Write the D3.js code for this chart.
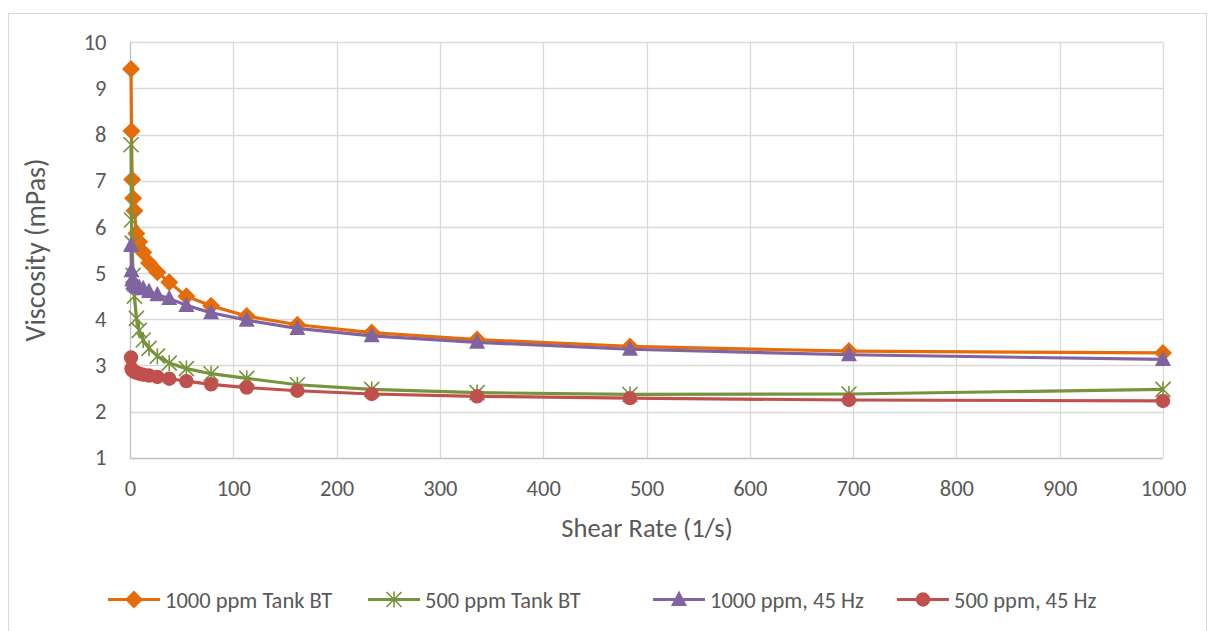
<!DOCTYPE html>
<html><head><meta charset="utf-8">
<script src="https://cdnjs.cloudflare.com/ajax/libs/d3/7.8.5/d3.min.js"></script>
<style>body{margin:0;background:#fff}svg{display:block}text{font-family:Carlito,"Liberation Sans","Open Sans",sans-serif;fill:#595959}</style>
</head><body><svg id="c" width="1214" height="631"></svg>
<script>
const shearRate = [1.0, 1.45, 2.1, 3.0, 4.3, 6.2, 8.9, 12.8, 18.4, 26.5, 38, 54.6, 78.5, 113, 162, 234, 336, 484, 696, 1000];
const tank1000 = [9.42, 8.08, 7.03, 6.62, 6.35, 5.86, 5.68, 5.45, 5.22, 5.02, 4.8, 4.5, 4.29, 4.07, 3.88, 3.71, 3.56, 3.41, 3.31, 3.27];
const tank500 = [7.78, 6.15, 5.65, 4.95, 4.5, 4.02, 3.76, 3.55, 3.37, 3.2, 3.05, 2.93, 2.82, 2.72, 2.58, 2.48, 2.41, 2.37, 2.38, 2.48];
const hz1000 = [5.6, 5.05, 4.85, 4.78, 4.74, 4.71, 4.69, 4.66, 4.6, 4.53, 4.45, 4.3, 4.14, 3.98, 3.8, 3.64, 3.5, 3.35, 3.23, 3.13];
const hz500 = [3.17, 2.93, 2.9, 2.88, 2.86, 2.84, 2.82, 2.8, 2.78, 2.75, 2.71, 2.66, 2.59, 2.52, 2.45, 2.38, 2.33, 2.29, 2.25, 2.23];
const seriesNames = ["1000 ppm Tank BT", "500 ppm Tank BT", "1000 ppm, 45 Hz", "500 ppm, 45 Hz"];
const xTicks = [0,100,200,300,400,500,600,700,800,900,1000];
const yTicks = [1,2,3,4,5,6,7,8,9,10];
const xTitle = "Shear Rate (1/s)";
const yTitle = "Viscosity (mPas)";

const series = [
  {name: seriesNames[0], values: tank1000, color: "#E46C0A", marker: "diamond"},
  {name: seriesNames[1], values: tank500, color: "#77933C", marker: "star"},
  {name: seriesNames[2], values: hz1000, color: "#8064A2", marker: "triangle"},
  {name: seriesNames[3], values: hz500, color: "#C0504D", marker: "circle"}
];

const FONT = 'Carlito,"Liberation Sans",sans-serif';
const svg = d3.select("#c");
svg.append("rect").attr("x",8.5).attr("y",13.5).attr("width",1198).attr("height",640)
  .attr("fill","#fff").attr("stroke","#d9d9d9");

const L=130, R=1163, T=42.3, B=457.7;
const x = d3.scaleLinear().domain([0,1000]).range([L,R]);
const y = d3.scaleLinear().domain([1,10]).range([B,T]);

const g = svg.append("g");
g.selectAll(".vg").data(xTicks.slice(1)).enter().append("line")
  .attr("x1",d=>Math.round(x(d))+0.5).attr("x2",d=>Math.round(x(d))+0.5)
  .attr("y1",T).attr("y2",B).attr("stroke","#d9d9d9").attr("stroke-width",1.3);
g.selectAll(".hg").data(yTicks.slice(1)).enter().append("line")
  .attr("y1",d=>Math.round(y(d))+0.5).attr("y2",d=>Math.round(y(d))+0.5)
  .attr("x1",L).attr("x2",R).attr("stroke","#d9d9d9").attr("stroke-width",1.3);
g.append("line").attr("x1",L+0.5).attr("x2",L+0.5).attr("y1",T).attr("y2",B).attr("stroke","#bfbfbf").attr("stroke-width",1.3);
g.append("line").attr("x1",L).attr("x2",R).attr("y1",Math.round(B)+0.5).attr("y2",Math.round(B)+0.5).attr("stroke","#bfbfbf").attr("stroke-width",1.3);

const xa = svg.append("g").attr("transform",`translate(0,${B})`)
  .call(d3.axisBottom(x).tickValues(xTicks).tickSize(0).tickPadding(22).tickFormat(d3.format("d")));
xa.select(".domain").remove();
xa.selectAll("text").attr("font-size",22.5).attr("fill","#595959").style("font-family",FONT);
const ya = svg.append("g").attr("transform",`translate(${L},0)`)
  .call(d3.axisLeft(y).tickValues(yTicks).tickSize(0).tickPadding(23.5).tickFormat(d3.format("d")));
ya.select(".domain").remove();
ya.selectAll("text").attr("font-size",22.5).attr("fill","#595959").style("font-family",FONT);

svg.append("text").attr("x",647).attr("y",537).attr("text-anchor","middle").attr("font-size",26.5).text(xTitle);
svg.append("text").attr("transform",`translate(45,${(T+B)/2}) rotate(-90)`).attr("text-anchor","middle").attr("font-size",28).text(yTitle);

function drawMarker(sel, type, color){
  if(type==="diamond"){
    sel.append("path").attr("d","M0,-9L9,0L0,9L-9,0Z").attr("fill",color);
  } else if(type==="triangle"){
    sel.append("path").attr("d","M0,-9L8,6.5L-8,6.5Z").attr("fill",color);
  } else if(type==="circle"){
    sel.append("circle").attr("r",7.2).attr("fill",color);
  } else {
    sel.append("path").attr("d","M-7.5,-7.5L7.5,7.5M-7.5,7.5L7.5,-7.5M0,-8L0,8").attr("stroke",color).attr("stroke-width",1.6).attr("fill","none");
  }
}

const line = d3.line().x((d,i)=>x(shearRate[i])).y(d=>y(d));
series.forEach(s=>{
  const sg = svg.append("g");
  sg.append("path").datum(s.values).attr("d",line).attr("fill","none")
    .attr("stroke",s.color).attr("stroke-width",3.2).attr("stroke-linejoin","round");
  sg.selectAll("g.m").data(s.values).enter().append("g")
    .attr("transform",(d,i)=>`translate(${x(shearRate[i])},${y(d)})`)
    .each(function(){ drawMarker(d3.select(this), s.marker, s.color); });
});

const legX = [108, 368, 653, 897];
series.forEach((s,i)=>{
  const lg = svg.append("g").attr("transform",`translate(${legX[i]},599.5)`);
  lg.append("line").attr("x1",0).attr("x2",52).attr("y1",0).attr("y2",0).attr("stroke",s.color).attr("stroke-width",3.2);
  const mg = lg.append("g").attr("transform","translate(26,0)");
  drawMarker(mg, s.marker, s.color);
  lg.append("text").attr("x",57).attr("y",8).attr("font-size",22.5).text(s.name);
});
</script></body></html>
